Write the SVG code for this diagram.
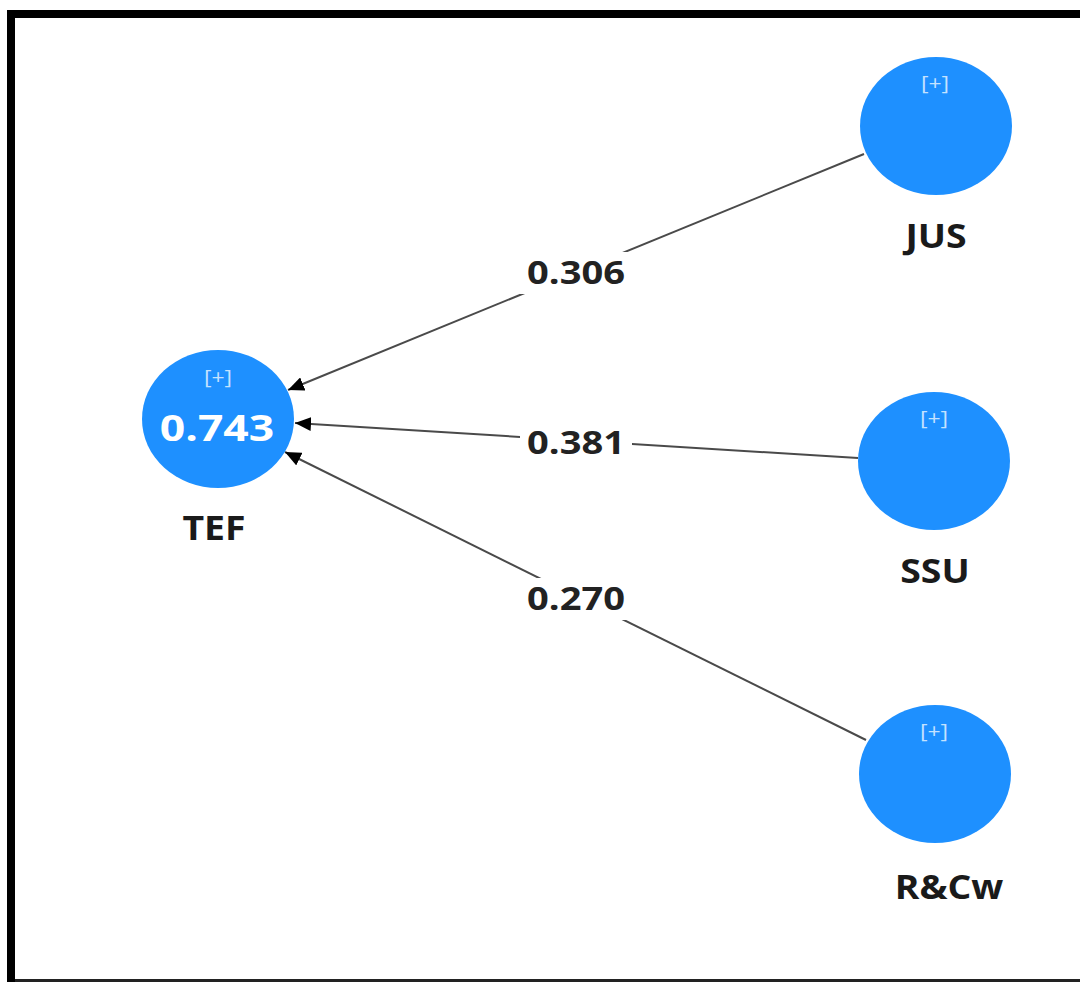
<svg xmlns="http://www.w3.org/2000/svg" width="1080" height="982" viewBox="0 0 1080 982">
<style>
.node{fill:#1e90ff}
.plus{font-family:"Open Sans","DejaVu Sans",sans-serif;font-size:20px;fill:#c4e2ff;text-anchor:middle}
.name{font-family:"Open Sans","DejaVu Sans",sans-serif;font-weight:bold;font-size:34px;fill:#1a1a1a;text-anchor:middle}
.val{font-family:"Open Sans","DejaVu Sans",sans-serif;font-weight:bold;font-size:32px;fill:#222;text-anchor:middle}
.r2{font-family:"Open Sans","DejaVu Sans",sans-serif;font-weight:bold;font-size:35px;fill:#ffffff;text-anchor:middle}
.bg{fill:#ffffff}
</style>
<defs>
<marker id="arrow" viewBox="0 0 16 14" refX="16" refY="7" markerWidth="16" markerHeight="14" markerUnits="userSpaceOnUse" orient="auto">
<path d="M0,0 L16,7 L0,14 z" fill="#000"/>
</marker>
</defs>
<rect x="0" y="0" width="1080" height="982" fill="#ffffff"/>
<g id="frame">
<rect x="7" y="10" width="1073" height="8" fill="#000"/>
<rect x="7" y="10" width="8" height="972" fill="#000"/>
<rect x="15" y="979" width="1065" height="3" fill="#222"/>
</g>
<g id="connectors">
<line x1="864" y1="154" x2="288" y2="390" stroke="#4a4a4a" stroke-width="2" marker-end="url(#arrow)"/>
<line x1="858" y1="458" x2="295" y2="423" stroke="#4a4a4a" stroke-width="2" marker-end="url(#arrow)"/>
<line x1="866" y1="740" x2="285" y2="452" stroke="#4a4a4a" stroke-width="2" marker-end="url(#arrow)"/>
<rect class="bg" x="520" y="252" width="112" height="42"/>
<rect class="bg" x="520" y="422" width="112" height="42"/>
<rect class="bg" x="520" y="578" width="112" height="42"/>
<text class="val" transform="translate(576,284) scale(1.19,1)">0.306</text>
<text class="val" transform="translate(576,454) scale(1.19,1)">0.381</text>
<text class="val" transform="translate(576,610) scale(1.19,1)">0.270</text>
</g>
<g id="TEF">
<ellipse class="node" cx="218" cy="419" rx="76" ry="69"/>
<text class="plus" transform="translate(218,384) scale(1.15,1)">[+]</text>
<text class="r2" transform="translate(217,441) scale(1.27,1)">0.743</text>
<text class="name" transform="translate(214,540) scale(1.1,1)">TEF</text>
</g>
<g id="JUS">
<ellipse class="node" cx="936" cy="126" rx="76" ry="69"/>
<text class="plus" transform="translate(935,90) scale(1.15,1)">[+]</text>
<text class="name" transform="translate(936,248) scale(1.1,1)">JUS</text>
</g>
<g id="SSU">
<ellipse class="node" cx="934" cy="461" rx="76" ry="69"/>
<text class="plus" transform="translate(934,425) scale(1.15,1)">[+]</text>
<text class="name" transform="translate(935,583) scale(1.1,1)">SSU</text>
</g>
<g id="RCw">
<ellipse class="node" cx="935" cy="774" rx="76" ry="69"/>
<text class="plus" transform="translate(934,738) scale(1.15,1)">[+]</text>
<text class="name" transform="translate(949,899) scale(1.1,1)">R&amp;Cw</text>
</g>
</svg>
